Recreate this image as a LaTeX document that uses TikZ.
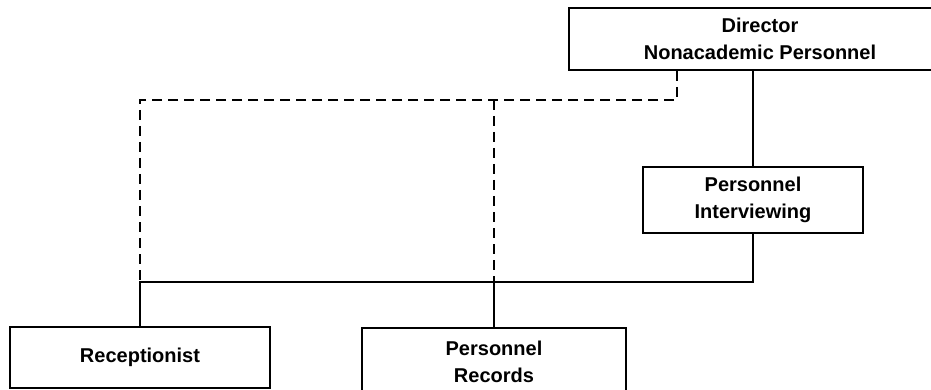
\documentclass[tikz,border=0pt]{standalone}
\usepackage{fontspec}
\setmainfont{Liberation Sans}
\begin{document}
\begin{tikzpicture}[x=1pt,y=-1pt,
  every node/.style={font=\bfseries\fontsize{20}{27}\selectfont, align=center, inner sep=0pt},
  unitbox/.style={draw, line width=2pt, rectangle},
  solidlink/.style={line width=2pt},
  dottedlink/.style={line width=2pt, dash pattern=on 10pt off 6pt}]
  \useasboundingbox (0,0) rectangle (931,390);
  \begin{scope}
    \clip (0,0) rectangle (931,390);
    % organisational units
    \node[unitbox, minimum width=382pt, minimum height=62pt] (dir) at (760,39) {Director\\Nonacademic Personnel};
    \node[unitbox, minimum width=220pt, minimum height=66pt] (intv) at (753,200) {Personnel\\Interviewing};
    \node[unitbox, minimum width=260pt, minimum height=61pt] (recp) at (140,357.5) {Receptionist};
    \node[unitbox, minimum width=264pt, minimum height=68pt] (rec) at (494,362) {Personnel\\Records};
    % junction points
    \coordinate (bus) at (0,282);
    \coordinate (dashrow) at (0,100);
    \coordinate (dashdrop) at (677,0);
    % line authority
    \draw[solidlink] (dir.south -| intv.north) -- (intv.north);
    \draw[solidlink] (intv.south) -- (intv.south |- bus) -- (recp.north |- bus) -- (recp.north);
    \draw[solidlink] (rec.north) -- (rec.north |- bus);
    % functional (dashed) authority
    \draw[dottedlink] (dashdrop |- dir.south) -- (dashdrop |- dashrow) -- (recp.north |- dashrow) -- (recp.north |- bus);
    \draw[dottedlink] (rec.north |- dashrow) -- (rec.north |- bus);
  \end{scope}
\end{tikzpicture}
\end{document}
